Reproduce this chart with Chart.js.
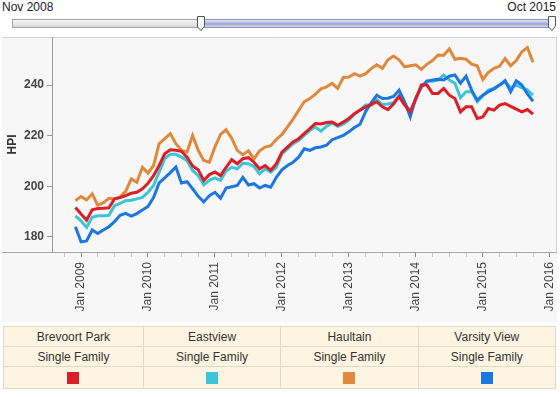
<!DOCTYPE html>
<html>
<head>
<meta charset="utf-8">
<script src="https://cdn.jsdelivr.net/npm/chart.js@4/dist/chart.umd.min.js"></script>
<style>
  body { margin: 0; background: #fff; font-family: Arial, "Liberation Sans", sans-serif; }
  #wrap { position: relative; width: 560px; height: 397px; overflow: hidden; }
  .lbl { position: absolute; top: 0; font-size: 12px; line-height: 14px; color: #222; }
  #track { position: absolute; left: 12px; top: 19px; width: 538px; height: 7px;
    border: 1px solid #a4a4a4; background: linear-gradient(#f6f6f6, #d9d9d9); }
  #range { position: absolute; left: 201px; top: 19px; width: 350px; height: 7px;
    border-top: 1px solid #8b90bd; border-bottom: 1px solid #8b90bd;
    background: linear-gradient(#e2e4f2, #b4b8da 45%, #9ea3cc 55%, #d6d9ee); }
  .handle { position: absolute; top: 15px; }
  #panel { position: absolute; left: 2px; top: 37px; width: 555px; height: 285px; background: #f7f7f7; }
  table { position: absolute; left: 3px; top: 326px; width: 553px; border-collapse: collapse;
    background: #fdf5e2; font-size: 12px; color: #333; }
  td { border: 1px solid #e3dac6; text-align: center; height: 19px; padding: 0; }
  tr.sw td { height: 21px; }
  .sq { display: inline-block; width: 12px; height: 12px; vertical-align: middle; }
</style>
</head>
<body>
<div id="wrap">
  <div class="lbl" style="left:2px">Nov 2008</div>
  <div class="lbl" style="right:4px">Oct 2015</div>
  <div id="track"></div>
  <div id="range"></div>
  <svg class="handle" style="left:196px" width="10" height="17"><path d="M1.5,1.5 H8.5 V11 L5,15.5 L1.5,12 Z" fill="#fbfbfb" stroke="#555" stroke-width="1"/></svg>
  <svg class="handle" style="left:547px" width="10" height="17"><path d="M1.5,1.5 H8.5 V11 L5,15.5 L1.5,12 Z" fill="#fbfbfb" stroke="#555" stroke-width="1"/></svg>
  <div id="panel"><canvas id="chart" width="555" height="285"></canvas></div>
  <table id="legend"></table>
</div>
<script>
// monthly values, Dec 2008 .. Oct 2015
var firstMonth = -1; // Dec 2008, counted in months from Jan 2009

var brevoortPark = [191.6, 189, 186.6, 190.7, 191.2, 191.3, 191.5, 195, 195.5, 196.3, 197.2, 197.6, 199,
  201.2, 204.2, 208.2, 212.8, 214.4, 214.2, 213.8, 211.5, 208, 206.5, 202.3, 204.6,
  205.6, 204.2, 207.5, 210.5, 208.9, 210.9, 211.3, 209.5, 206.9, 208.2, 206.3, 208.9,
  213.5, 215.5, 217.5, 218.8, 220.8, 222.8, 224.8, 224.6, 225.2, 225.4, 224.1, 225.4,
  226.8, 228.7, 230.1, 231.4, 232.3, 233.4, 231.4, 230.3, 232.5, 235.4, 232.1, 229.4,
  234.5, 240, 240, 236.7, 236.7, 238.7, 236, 234.7, 229.4, 231.4, 231.4, 226.8,
  227.4, 230.7, 230.1, 232.1, 232.7, 231.6, 230.5, 229.4, 230.3, 228.5];

var eastview = [188.3, 186.3, 183.7, 187.7, 188.3, 188.3, 188.5, 192.3, 193.2, 194.3, 194.5, 195, 195.6,
  197.6, 200.3, 205.6, 210.9, 212.6, 212.6, 211.5, 210.2, 206.2, 204.2, 200.6, 202.3,
  203.3, 202.3, 206, 207.5, 206.9, 209.1, 208.9, 207.8, 204.9, 206.9, 205.6, 207.5,
  212.8, 214.8, 216.8, 218.1, 220.1, 222.1, 223.4, 221.8, 223.7, 225, 223.7, 224.5,
  226.1, 228.5, 230.1, 232.1, 232.1, 234.3, 232.3, 232.5, 233, 236, 232.7, 229.8,
  234.7, 239.3, 241.7, 241.5, 242, 244, 242, 240.7, 235, 237.4, 237.4, 233.4,
  235.8, 238, 238.7, 240, 241.2, 239, 240, 239, 238, 236];

var haultain = [194.3, 195.9, 194.6, 197, 192.5, 193.5, 195.2, 195, 195.8, 198, 202.9, 201.6, 207.5,
  205.2, 208.2, 216.8, 218.8, 220.8, 216.8, 214.2, 213.5, 220.1, 214.2, 210.2, 209.5,
  215.5, 220.5, 222.3, 219, 214.2, 212.5, 214, 210.8, 214, 215.5, 216, 218.5,
  220.5, 223.5, 226.5, 230, 233.4, 234.7, 236.4, 238.5, 239.3, 240.7, 238.7, 243,
  243.2, 244.5, 243.5, 244.5, 246.5, 248, 246.6, 250, 251.5, 250, 247.2, 247.6,
  248, 246.2, 248.3, 249.7, 251.9, 251.8, 254.3, 250.2, 250.6, 250.2, 248.3, 247.6,
  242.2, 245, 246.6, 247.4, 250.5, 247.6, 249.7, 253.2, 254.8, 249];

var varsityView = [184, 178, 178.4, 182.7, 181.3, 182.7, 184, 186, 188.5, 189.3, 188.2, 189.2, 190.6,
  192, 195.5, 201.3, 203.3, 205.4, 207.6, 201.3, 201.8, 199, 196, 193.8, 196.3,
  197.6, 195.3, 199.3, 199.8, 200.3, 203.5, 200.5, 201, 199.3, 200.3, 199.6, 203.5,
  206.5, 208.2, 209.5, 211.5, 214.8, 214.2, 215.2, 215.5, 216.2, 218.4, 219.2, 220.1,
  221.5, 223.2, 224.5, 229.5, 233, 236, 234.7, 234.8, 235.5, 238, 233.4, 227.5,
  235, 239.3, 241.5, 242, 242.3, 242, 243.5, 244, 240.7, 243.5, 238, 234,
  236, 237.4, 238.5, 240, 241.8, 237.4, 241.7, 240, 236.5, 233.6];

var seriesNames = ['Brevoort Park', 'Eastview', 'Haultain', 'Varsity View'];
var seriesType = ['Single Family', 'Single Family', 'Single Family', 'Single Family'];
var seriesColors = ['#dc1f26', '#3ec4d8', '#e0883c', '#1d77e2'];
var seriesData = [brevoortPark, eastview, haultain, varsityView];
var drawOrder = [0, 2, 3, 1];

var xTickLabels = ['Jan 2009', 'Jan 2010', 'Jan 2011', 'Jan 2012', 'Jan 2013', 'Jan 2014', 'Jan 2015', 'Jan 2016'];
var yTicks = [180, 200, 220, 240];

function points(arr) {
  return arr.map(function(v, i) { return { x: firstMonth + i, y: v }; });
}

// chart panel frame and the axis line running under the y labels
var frame = {
  id: 'frame',
  beforeDraw: function(chart) {
    var c = chart.ctx, a = chart.chartArea;
    c.save();
    c.strokeStyle = '#d2d2d2';
    c.lineWidth = 1;
    c.beginPath();
    c.moveTo(0, 0.5); c.lineTo(chart.width, 0.5);
    c.moveTo(a.right - 0.5, 0); c.lineTo(a.right - 0.5, a.bottom);
    c.stroke();
    c.strokeStyle = '#a8a8a8';
    c.beginPath();
    c.moveTo(0, a.bottom + 0.5); c.lineTo(a.left, a.bottom + 0.5);
    c.stroke();
    c.restore();
  }
};

Chart.defaults.font.family = 'Arial, "Liberation Sans", sans-serif';

var ctx = document.getElementById('chart').getContext('2d');
var chart = new Chart(ctx, {
  type: 'line',
  data: {
    datasets: seriesData.map(function(d, i) {
      return {
        label: seriesNames[i],
        data: points(d),
        borderColor: seriesColors[i],
        backgroundColor: seriesColors[i],
        borderWidth: 3,
        pointRadius: 0,
        tension: 0,
        order: drawOrder[i]
      };
    })
  },
  options: {
    responsive: false,
    animation: false,
    layout: { padding: 0 },
    plugins: { legend: { display: false }, tooltip: { enabled: false } },
    scales: {
      x: {
        type: 'linear',
        min: -5.2,
        max: 85.3,
        border: { color: '#a8a8a8' },
        grid: {
          drawOnChartArea: false,
          tickLength: 5,
          tickColor: function(c) { return c.tick && c.tick.value % 12 === 0 ? '#888' : '#c4c4c4'; }
        },
        afterBuildTicks: function(s) {
          var t = [];
          for (var m = -3; m <= 84; m += 3) t.push({ value: m });
          s.ticks = t;
        },
        afterFit: function(s) { s.height = 70; s.paddingLeft = 0; s.paddingRight = 0; },
        ticks: {
          autoSkip: false,
          minRotation: 90,
          maxRotation: 90,
          padding: 5,
          color: '#444',
          font: { size: 12 },
          callback: function(v) { return v % 12 === 0 ? xTickLabels[v / 12] : ''; }
        }
      },
      y: {
        min: 174,
        max: 259,
        border: { color: '#999' },
        grid: { drawOnChartArea: false, tickLength: 5, tickColor: '#999' },
        afterBuildTicks: function(s) { s.ticks = yTicks.map(function(v) { return { value: v }; }); },
        afterFit: function(s) { s.width = 50; s.paddingTop = 0; s.paddingBottom = 0; },
        ticks: { padding: 3, color: '#444', font: { size: 12, weight: 'bold' } },
        title: { display: true, text: 'HPI', color: '#333', font: { size: 12, weight: 'bold' }, padding: { top: 3, bottom: 0 } }
      }
    }
  },
  plugins: [frame]
});

// legend table under the chart
var table = document.getElementById('legend');
var rows = ['<tr>', '<tr>', '<tr class="sw">'];
seriesNames.forEach(function(n, i) {
  rows[0] += '<td>' + n + '</td>';
  rows[1] += '<td>' + seriesType[i] + '</td>';
  rows[2] += '<td><span class="sq" style="background:' + seriesColors[i] + '"></span></td>';
});
table.innerHTML = rows.map(function(r) { return r + '</tr>'; }).join('');
</script>
</body>
</html>
